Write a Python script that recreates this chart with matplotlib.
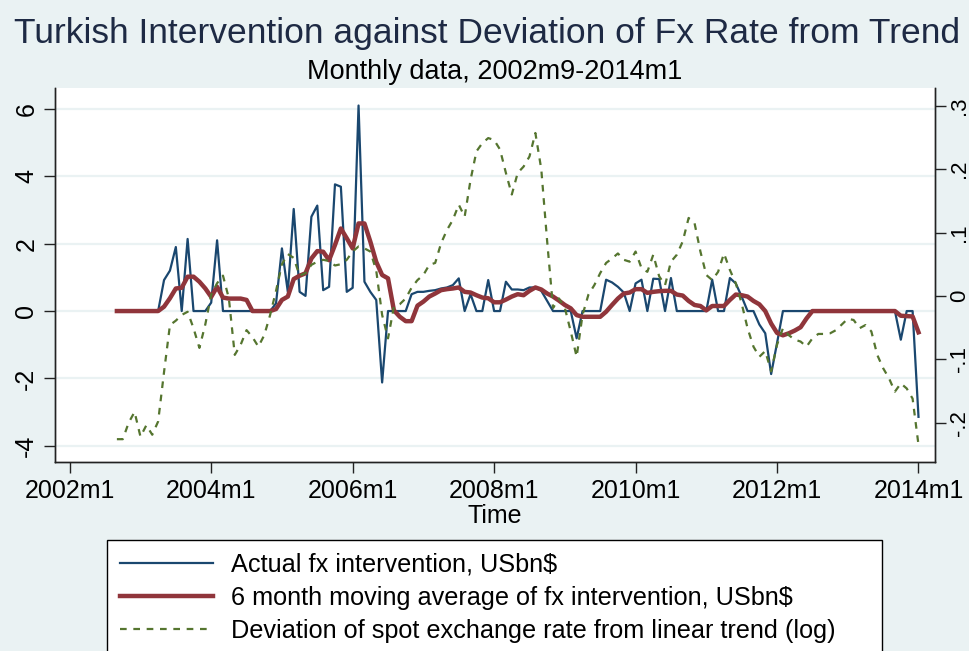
import numpy as np
import pandas as pd
import matplotlib
matplotlib.use("Agg")
from matplotlib import pyplot as plt

# monthly data 2002m9 - 2014m1
start, end = "2002-09", "2014-01"

actual = [
    0, 0, 0, 0, 0, 0, 0, 0,
    0.92, 1.2, 1.9, 0, 2.14, 0, 0, 0,
    0.25, 2.1, 0, 0, 0, 0, 0, 0,
    0, 0, 0, 0.23, 1.86, 0.57, 3.03, 0.57,
    0.45, 2.8, 3.13, 0.62, 0.72, 3.76, 3.69, 0.57,
    0.69, 6.1, 0.87, 0.57, 0.33, -2.12, 0, 0,
    0, 0, 0.5, 0.57, 0.57, 0.6, 0.62, 0.67,
    0.7, 0.77, 0.97, 0, 0.5, 0, 0, 0.92,
    0, 0, 0.87, 0.64, 0.64, 0.62, 0.7, 0.7,
    0.6, 0.3, 0, 0, 0, 0, -0.81, 0,
    0, 0, 0, 0.93, 0.85, 0.72, 0.55, 0,
    0.82, 0.93, 0, 0.96, 0.95, 0, 0.98, 0,
    0, 0, 0, 0, 0, 0.93, 0, 0,
    0.98, 0.82, 0.43, 0, 0, -0.4, -0.66, -1.87,
    -0.95, 0, 0, 0, 0, 0, 0, 0,
    0, 0, 0, 0, 0, 0, 0, 0,
    0, 0, 0, 0, 0, -0.85, 0, 0,
    -3.14,
]

mov_avg = [
    0, 0, 0, 0, 0, 0, 0, 0,
    0.13, 0.38, 0.67, 0.69, 1.02, 1.02, 0.87, 0.67,
    0.42, 0.72, 0.4, 0.37, 0.37, 0.37, 0.33, 0,
    0, 0, 0, 0.06, 0.33, 0.43, 0.95, 1.05,
    1.12, 1.56, 1.78, 1.76, 1.51, 1.96, 2.45, 2.16,
    1.86, 2.6, 2.6, 2.06, 1.46, 1.07, 0.97, 0.02,
    -0.17, -0.3, -0.3, 0.16, 0.28, 0.43, 0.52, 0.62,
    0.65, 0.67, 0.7, 0.57, 0.55, 0.47, 0.4, 0.38,
    0.26, 0.26, 0.34, 0.43, 0.5, 0.47, 0.6, 0.7,
    0.64, 0.52, 0.43, 0.31, 0.18, 0.08, -0.12, -0.17,
    -0.17, -0.17, -0.17, -0.02, 0.18, 0.37, 0.52, 0.55,
    0.65, 0.65, 0.54, 0.57, 0.59, 0.6, 0.6, 0.49,
    0.46, 0.3, 0.18, 0.15, 0.02, 0.15, 0.15, 0.15,
    0.33, 0.49, 0.47, 0.43, 0.3, 0.2, 0.0, -0.37,
    -0.65, -0.72, -0.66, -0.58, -0.48, -0.22, 0, 0,
    0, 0, 0, 0, 0, 0, 0, 0,
    0, 0, 0, 0, 0, -0.14, -0.15, -0.16,
    -0.63,
]

deviation = [
    -0.226, -0.226, -0.2, -0.183, -0.222, -0.204, -0.219, -0.198,
    -0.12, -0.046, -0.039, -0.03, -0.025, -0.051, -0.082, -0.045,
    0.002, 0.02, 0.032, -0.004, -0.093, -0.077, -0.054, -0.065,
    -0.08, -0.062, -0.03, 0.008, 0.05, 0.066, 0.06, 0.032,
    0.036, 0.049, 0.054, 0.057, 0.055, 0.048, 0.05, 0.057,
    0.07, 0.078, 0.075, 0.07, 0.04, -0.03, -0.067, -0.017,
    -0.013, -0.004, 0.013, 0.025, 0.033, 0.049, 0.052, 0.083,
    0.104, 0.12, 0.144, 0.125, 0.183, 0.228, 0.241, 0.249,
    0.246, 0.231, 0.194, 0.16, 0.194, 0.204, 0.22, 0.257,
    0.2, 0.086, -0.019, -0.004, -0.019, -0.056, -0.096, -0.03,
    0.002, 0.017, 0.036, 0.052, 0.059, 0.067, 0.057, 0.054,
    0.07, 0.044, 0.038, 0.065, 0.031, 0.017, 0.054, 0.065,
    0.086, 0.123, 0.115, 0.07, 0.033, 0.025, 0.038, 0.067,
    0.041, 0.02, -0.012, -0.051, -0.08, -0.096, -0.087, -0.119,
    -0.077, -0.051, -0.062, -0.069, -0.072, -0.08, -0.067, -0.06,
    -0.06, -0.059, -0.054, -0.045, -0.036, -0.038, -0.051, -0.046,
    -0.056, -0.093, -0.114, -0.13, -0.151, -0.138, -0.146, -0.162,
    -0.235,
]

xtick_labels = ["2002m1", "2004m1", "2006m1", "2008m1", "2010m1", "2012m1", "2014m1"]
left_ticks = [-4, -2, 0, 2, 4, 6]
right_ticks = [-0.2, -0.1, 0, 0.1, 0.2, 0.3]
right_labels = ["-.2", "-.1", "0", ".1", ".2", ".3"]

plt.rcParams['font.family'] = ['Liberation Sans', 'DejaVu Sans']

bg = '#EAF2F3'
navy = '#1A476F'
maroon = '#90353B'
green = '#55752F'

periods = pd.period_range(start, end, freq='M')
x = (periods.year - 2002) * 12 + (periods.month - 1)

fig = plt.figure(figsize=(9.7, 6.51), dpi=100, facecolor=bg)
ax = fig.add_axes([55 / 970, 1 - 462 / 651, 880 / 970, 374 / 651])
ax.set_facecolor('white')
ax2 = ax.twinx()

l1, = ax.plot(x, actual, color=navy, lw=1.6, label='Actual fx intervention, USbn$')
l2, = ax.plot(x, mov_avg, color=maroon, lw=3.2, label='6 month moving average of fx intervention, USbn$')
l3, = ax2.plot(x, deviation, color=green, lw=1.6, ls=(0, (3, 3)),
               label='Deviation of spot exchange rate from linear trend (log)')

ax.set_xlim(-2.5, 146.8)
ax.set_ylim(-4.48, 6.62)
ax2.set_ylim(-0.262, 0.328)

ax.set_yticks(left_ticks)
ax.set_yticklabels([str(t) for t in left_ticks], rotation=90, va='center')
ax2.set_yticks(right_ticks)
ax2.set_yticklabels(right_labels, rotation=90, va='center')
ax.set_xticks(range(0, 145, 24))
ax.set_xticklabels(xtick_labels)

ax.grid(axis='y', color=bg, lw=1.6)
ax.set_axisbelow(True)

for a in (ax, ax2):
    a.spines['top'].set_visible(False)
    for s in ('left', 'right', 'bottom'):
        a.spines[s].set_linewidth(1.0)
        a.spines[s].set_color('#222222')
    a.tick_params(labelsize=18, length=8, width=1.0, color='#222222', pad=4)
ax2.tick_params(labelsize=16, pad=2)

ax.set_xlabel('Time', fontsize=18, labelpad=1)

fig.text(487 / 970, 1 - 33 / 651, 'Turkish Intervention against Deviation of Fx Rate from Trend',
         ha='center', va='center', fontsize=25.5, color='#1E2A44')
fig.text(495 / 970, 1 - 72 / 651, 'Monthly data, 2002m9-2014m1',
         ha='center', va='center', fontsize=19.5, color='black')

leg = fig.legend(handles=[l1, l2, l3], loc='upper left',
                 bbox_to_anchor=(107 / 970, 1 - 540 / 651 - 0.01, 775 / 970, 0.01),
                 mode='expand', fontsize=18.2, frameon=True, fancybox=False,
                 facecolor='white', framealpha=1.0,
                 edgecolor='black', handlelength=3.7, handletextpad=0.7,
                 labelspacing=0.37, borderpad=0.5, borderaxespad=0)
leg.get_frame().set_linewidth(1.0)

plt.savefig('out.png', dpi=100, facecolor=bg)
